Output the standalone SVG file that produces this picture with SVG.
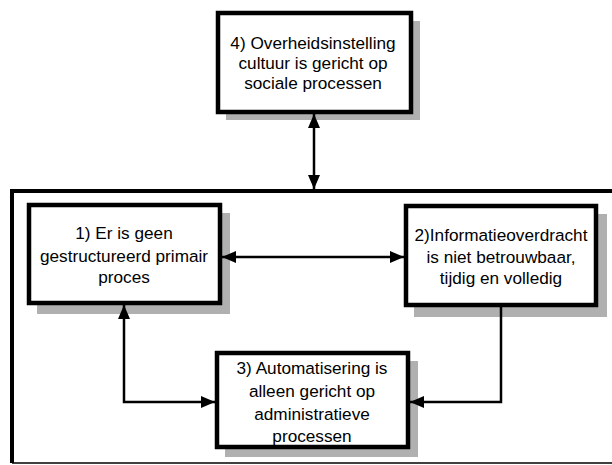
<svg xmlns="http://www.w3.org/2000/svg" width="612" height="465" viewBox="0 0 612 465">
<defs>
<style>
.box{fill:#fff;stroke:#000;stroke-width:4.5}
.sh{fill:#b0b0b0}
.t{font-family:"Liberation Sans",Arial,sans-serif;font-size:17.2px;fill:#000;text-anchor:middle}
.c{fill:none;stroke:#000;stroke-width:2.5}
</style>
<marker id="ah" viewBox="0 0 14 12" refX="14" refY="6" markerWidth="14" markerHeight="12" markerUnits="userSpaceOnUse" orient="auto-start-reverse">
<path d="M0,0 L14,6 L0,12 z" fill="#000"/>
</marker>
</defs>
<rect width="612" height="465" fill="#fff"/>
<g id="frame">
<path d="M12,463 L12,191 L612,191" fill="none" stroke="#000" stroke-width="4"/>
<path d="M12,463 L612,463" fill="none" stroke="#000" stroke-width="1.5"/>
</g>
<g id="node4">
<rect class="sh" x="226" y="21" width="194" height="99"/>
<rect class="box" x="218" y="13" width="193" height="99"/>
<text class="t" x="313" y="49">4) Overheidsinstelling</text>
<text class="t" x="313" y="69">cultuur is gericht op</text>
<text class="t" x="313" y="89">sociale processen</text>
</g>
<g id="node1">
<rect class="sh" x="37" y="213" width="193" height="101"/>
<rect class="box" x="29" y="205" width="191" height="98"/>
<text class="t" x="124" y="239">1) Er is geen</text>
<text class="t" x="124" y="262">gestructureerd primair</text>
<text class="t" x="124" y="283">proces</text>
</g>
<g id="node2">
<rect class="sh" x="414" y="214" width="193" height="103"/>
<rect class="box" x="406" y="206" width="190" height="99"/>
<text class="t" x="501" y="241">2)Informatieoverdracht</text>
<text class="t" x="501" y="263">is niet betrouwbaar,</text>
<text class="t" x="501" y="284">tijdig en volledig</text>
</g>
<g id="node3">
<rect class="sh" x="225" y="361" width="193" height="96"/>
<rect class="box" x="217" y="353" width="191" height="94"/>
<text class="t" x="312" y="374">3) Automatisering is</text>
<text class="t" x="312" y="397">alleen gericht op</text>
<text class="t" x="312" y="420">administratieve</text>
<text class="t" x="312" y="442">processen</text>
</g>
<g id="connectors">
<path class="c" d="M314,114 L314,189" marker-start="url(#ah)" marker-end="url(#ah)"/>
<path class="c" d="M222,257 L404,257" marker-start="url(#ah)" marker-end="url(#ah)"/>
<path class="c" d="M124,305 L124,402 L215,402" marker-start="url(#ah)" marker-end="url(#ah)"/>
<path class="c" d="M501,305 L501,402 L410,402" marker-end="url(#ah)"/>
</g>
</svg>
